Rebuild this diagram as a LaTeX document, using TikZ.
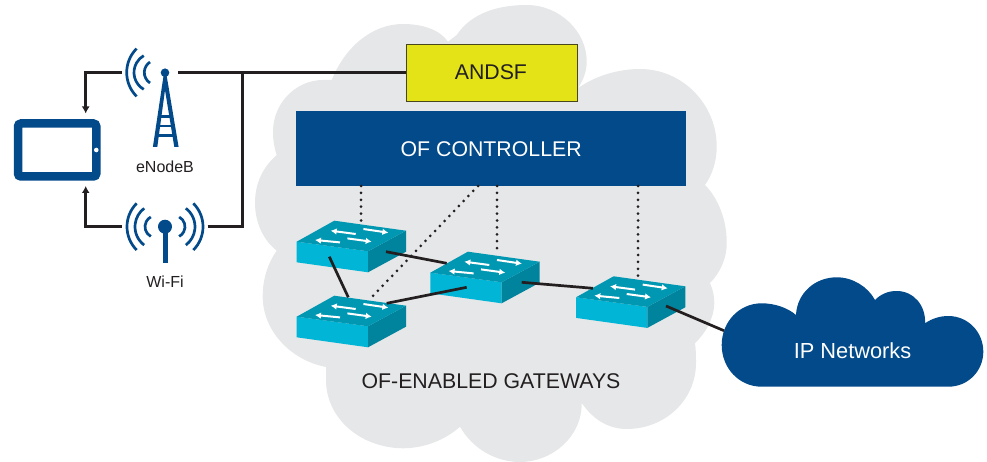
\documentclass[tikz,border=0pt]{standalone}
\usepackage{fontspec}
\setmainfont{Liberation Sans}
\usetikzlibrary{arrows.meta}
\definecolor{cloudgray}{HTML}{E6E7E8}
\definecolor{navy}{HTML}{034A8A}
\definecolor{andsfy}{HTML}{E3E317}
\definecolor{swtop}{HTML}{0097B2}
\definecolor{swfront}{HTML}{00B5D6}
\definecolor{swside}{HTML}{00839C}
\definecolor{ink}{HTML}{231F20}
\newcommand{\wavearc}[4]{% center x, y, radius, half-angle (left side)
  \draw[wave] (#1,#2) ++({180-#4}:#3) arc[start angle={180-#4},end angle={180+#4},radius=#3];}
\newcommand{\wavearcr}[4]{% right side
  \draw[wave] (#1,#2) ++({-#4}:#3) arc[start angle={-#4},end angle={#4},radius=#3];}
\tikzset{
  x=1pt,y=-1pt,
  link/.style={draw=ink,line width=2.7pt},
  feed/.style={draw=ink,line width=2.5pt},
  ctrl/.style={draw=ink,line width=3pt,dash pattern=on 0pt off 6.9pt,line cap=round},
  arrowlink/.style={feed,-{Latex[length=7pt,width=8pt]}},
  wave/.style={draw=navy,line width=2.7pt},
  lab/.style={font=\fontsize{16}{18}\selectfont,text=ink,inner sep=0pt},
  big/.style={font=\fontsize{21.3}{24}\selectfont,inner sep=0pt},
  sw/.pic={
    \fill[swfront] (0,0) -- (71.3,9.6) -- (71.3,30.6) -- (0,20.6) -- cycle;
    \fill[swside] (71.3,9.6) -- (109.3,-11) -- (109.3,10) -- (71.3,30.6) -- cycle;
    \fill[swtop] (0,0) -- (37.6,-21) -- (109.3,-11) -- (71.3,9.6) -- cycle;
    \foreach \ax/\ay/\bx/\by in {59/-7.7/34/-11, 66.7/-12.7/91.7/-9, 43.3/0.7/18.3/-1.7, 50.7/-3.3/75/0}{
      \draw[white,line width=2pt,-{Latex[length=6pt,width=6.5pt]}] (\ax,\ay) -- (\bx,\by);
    }
  }
}
\begin{document}
\begin{tikzpicture}
\useasboundingbox (0,0) rectangle (987,462);
% gray cloud
\fill[cloudgray] (456.7,35) .. controls (472,12) and (500,5) .. (526.7,5)
 .. controls (560,5) and (587,32) .. (586.7,61.7)
 .. controls (586.7,72) and (583,80) .. (578.3,88)
 .. controls (595,76) and (618,69) .. (640,69)
 .. controls (683,69) and (717,105) .. (716.7,146.7)
 .. controls (716.7,162) and (712,175) .. (705,185)
 .. controls (718,198) and (727,220) .. (726.7,243)
 .. controls (727,258) and (720,273) .. (710,283)
 .. controls (713,290) and (714.3,296) .. (714.3,303)
 .. controls (714,318) and (706,333) .. (695,343)
 .. controls (696,350) and (696,356) .. (696,363)
 .. controls (696,400) and (665,429) .. (626.7,429)
 .. controls (607,429) and (592,418) .. (581.7,403)
 .. controls (582,437) and (552,462) .. (520,462)
 .. controls (495,462) and (472,448) .. (460,426.7)
 .. controls (445,440) and (425,448) .. (403.3,448.3)
 .. controls (360,448) and (326,418) .. (326,380)
 .. controls (326,375) and (326,371) .. (326,367)
 .. controls (290,360) and (262,330) .. (262.7,295)
 .. controls (263,278) and (268,263) .. (276.7,250.7)
 .. controls (263,240) and (255,222) .. (255,203)
 .. controls (255,183) and (263,167) .. (276.7,155)
 .. controls (274,147) and (273,140) .. (273,131.7)
 .. controls (273,103) and (296,80) .. (323,80)
 .. controls (326,80) and (329,80) .. (331.7,80)
 .. controls (345,47) and (372,24) .. (403,24)
 .. controls (423,24) and (440,30) .. (448,41.7)
 -- cycle;
% controller and ANDSF
\node[fill=navy,minimum width=390pt,minimum height=75pt,anchor=north west,big,text=white] (ctl) at (296,111) {OF CONTROLLER};
\node[fill=andsfy,draw=ink!80!andsfy,line width=0.8pt,minimum width=171pt,minimum height=57pt,anchor=north west,big,text=ink] (andsf) at (406,44) {\raisebox{1pt}{ANDSF}\hspace*{2pt}};
% anchors
\coordinate (c1) at (361,186);
\coordinate (c2) at (497,186);
\coordinate (c3) at (638,186);
\coordinate (c4) at (478,186);
\coordinate (d1) at (361,222);
\coordinate (d2) at (497,252);
\coordinate (d3) at (638,278);
\coordinate (d4) at (371,298);
\draw[ctrl] (c1) -- (d1);
\draw[ctrl] (c2) -- (d2);
\draw[ctrl] (c3) -- (d3);
\draw[ctrl] (c4) -- (d4);
% switches
\pic at (296.7,241.7) {sw};
\pic at (296.7,316.7) {sw};
\pic at (430.3,272.7) {sw};
\pic at (576,297.3) {sw};
% IP cloud
\fill[navy] (761.7,386.7) .. controls (739,386.7) and (721.7,368) .. (721.7,345)
 .. controls (721.7,322) and (739,303.3) .. (761.7,303.3)
 .. controls (775,303.3) and (788,308) .. (796,315)
 .. controls (797,293) and (815,277.3) .. (836.7,277.3)
 .. controls (853,277.3) and (868,287) .. (875,300)
 .. controls (881,294) and (888,291) .. (896.7,291)
 .. controls (914,291) and (926,306) .. (925,323.3)
 .. controls (932,318.5) and (940,316) .. (948.3,316)
 .. controls (968,316) and (983.3,332) .. (983.3,351.7)
 .. controls (983.3,371) and (968,386.7) .. (948.3,386.7) -- cycle;
\node[big,text=white,font=\fontsize{21.8}{24}\selectfont] (ip) at (852.5,351) {IP Networks};
% links
\coordinate (l1a) at (329.3,256.7); \coordinate (l1b) at (348.3,297.3);
\coordinate (l2a) at (386,251.7); \coordinate (l2b) at (446.7,263.3);
\coordinate (l3a) at (386.7,303.3); \coordinate (l3b) at (466.7,287.3);
\coordinate (l4a) at (521.7,282.3); \coordinate (l4b) at (593,288.3);
\coordinate (l5a) at (666,306); \coordinate (l5b) at (724,330.7);
\draw[link] (l1a) -- (l1b);
\draw[link] (l2a) -- (l2b);
\draw[link] (l3a) -- (l3b);
\draw[link] (l4a) -- (l4b);
\draw[link] (l5a) -- (l5b);
% tablet
\draw[navy,line width=8.5pt,rounded corners=3pt] (18,123.5) rectangle (96.3,176.5);
\fill[navy] (23,118.6) rectangle (38,122);
\fill[white] (96.3,150) circle (2.3);
% tower
\coordinate (tw) at (165,72.7);
\fill[navy] (tw) circle (4.3);
\fill[navy] (163.5,76) -- (166.7,76) -- (178.6,147) -- (174.3,147) -- (165,90) -- (157.3,147) -- (152.9,147) -- cycle;
\draw[navy,line width=2.8pt] (159,116.7) -- (171,116.7) (157,126) -- (173,126) (155,135.5) -- (176,135.5);
\wavearc{160.5}{72.5}{33.8}{45}
\wavearc{153.5}{72.5}{19.5}{60}
\wavearc{156.8}{72.5}{12.5}{57}
\node[lab] (enb) at (165,166.7) {eNodeB};
% wifi
\coordinate (wf) at (165,226.7);
\fill[navy] (wf) circle (7);
\draw[navy,line width=5pt] (wf) -- (165,263);
\wavearc{160}{226.7}{33}{45}
\wavearc{158}{226.7}{23}{53}
\wavearc{156}{226.7}{11}{62}
\wavearcr{170}{226.7}{33}{45}
\wavearcr{172}{226.7}{23}{53}
\wavearcr{174}{226.7}{11}{62}
\node[lab] (wifi) at (165,282) {Wi-Fi};
% feeder lines
\coordinate (t1) at (121.7,72.7);
\coordinate (t2) at (121.7,226.7);
\coordinate (tab1) at (85.7,113.5);
\coordinate (tab2) at (85.7,186);
\draw[arrowlink] (t1) -| (tab1);
\draw[arrowlink] (t2) -| (tab2);
\coordinate (t3) at (178,72.7);
\coordinate (t4) at (207.5,226.7);
\coordinate (j) at (242.3,72.7);
\draw[feed] (t3) -- (andsf.west |- t3);
\draw[feed,line join=miter] (t4) -| (j);
% gateway label
\node[big,text=ink] (gw) at (491,381) {OF-ENABLED GATEWAYS};
\end{tikzpicture}
\end{document}
